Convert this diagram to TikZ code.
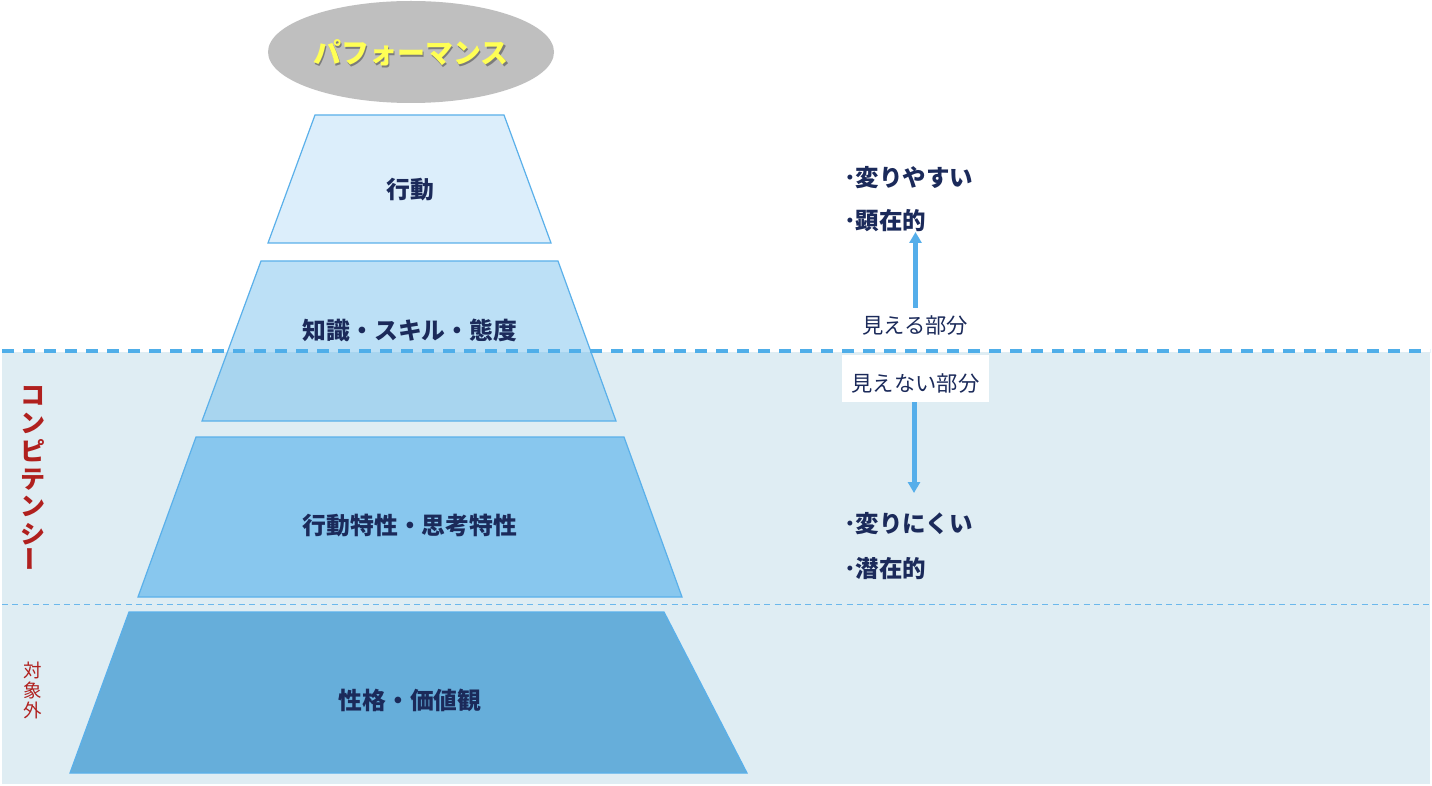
\documentclass[tikz,border=0pt]{standalone}
\usepackage{fontspec}
\setmainfont{Noto Sans CJK JP}
\usetikzlibrary{arrows.meta}
\definecolor{navy}{HTML}{1B2A5A}
\definecolor{compred}{HTML}{B0201E}
\definecolor{bgblue}{HTML}{DFEDF3}
\definecolor{edgeblue}{HTML}{5AB0EA}
\definecolor{arrowblue}{HTML}{55AEEA}
\definecolor{dashblue}{HTML}{4FAEE9}
\definecolor{thindash}{HTML}{6BB8EC}
\definecolor{tone}{HTML}{DCEEFB}
\definecolor{ttwo}{HTML}{4FAEE9}
\definecolor{tthree}{HTML}{88C7EE}
\definecolor{tfour}{HTML}{66AEDA}
\definecolor{ellgray}{HTML}{BFBFBF}
\definecolor{perfyellow}{HTML}{FFFF55}
\tikzset{
  trap/.style={draw=edgeblue, line width=1.2pt, line join=miter},
  traplabel/.style={font=\fontsize{23.8}{26}\selectfont\bfseries, text=navy, inner sep=0pt},
  bullet/.style={font=\fontsize{23.5}{26}\selectfont\bfseries, text=navy, anchor=west, inner sep=0pt},
  sidelabel/.style={font=\fontsize{21.3}{24}\selectfont, text=navy},
  bigarrow/.style={draw=arrowblue, line width=5pt, -{Triangle[width=12pt,length=11pt]}},
}
\begin{document}
\begin{tikzpicture}[x=1pt,y=-1pt]
\useasboundingbox (0,0) rectangle (1432,786);
\fill[white] (0,0) rectangle (1432,786);
% lower (invisible) region
\fill[bgblue] (2,352) rectangle (1430,784);

% performance ellipse
\fill[ellgray] (411,52) ellipse [x radius=143, y radius=51];
\node[font=\fontsize{28}{30}\selectfont\bfseries, text=black, opacity=0.35, inner sep=0pt] (perfshadow) at (412.5,54.5) {パフォーマンス};
\node[font=\fontsize{28}{30}\selectfont\bfseries, text=perfyellow, inner sep=0pt] (perf) at (411,53) {パフォーマンス};

% pyramid
\filldraw[trap, fill=tone] (315,115) -- (504,115) -- (551,243) -- (268,243) -- cycle;
\filldraw[trap, fill=ttwo, fill opacity=0.38] (261,261) -- (558,261) -- (616,421) -- (202,421) -- cycle;
\filldraw[trap, fill=tthree] (196,437) -- (624,437) -- (682,597) -- (138,597) -- cycle;
\filldraw[trap, fill=tfour] (129,612) -- (664,612) -- (747,773) -- (70,773) -- cycle;

\node[traplabel] (act) at (410,190) {行動};
\node[traplabel] (know) at (410,330) {知識・スキル・態度};
\node[traplabel] (trait) at (410,526) {行動特性・思考特性};
\node[traplabel] (pers) at (410,700) {性格・価値観};

% boundary lines
\draw[dashblue, line width=3.5pt, dash pattern=on 12pt off 9pt] (2,351) -- (1430,351);
\draw[thindash, line width=1.6pt, dash pattern=on 6pt off 4.3pt] (2,604.5) -- (1430,604.5);

% side labels
\node[font=\fontsize{25}{27.8}\selectfont\bfseries, text=compred, align=center, inner sep=0pt] (comp) at (33,479) {コ\\ン\\ピ\\テ\\ン\\シ\\\rotatebox{90}{ー}};
\node[font=\fontsize{18.5}{20}\selectfont, text=compred, align=center, inner sep=0pt] (outside) at (33,690) {対\\象\\外};

% right side texts
\node[bullet] (easy) at (844,178) {･変りやすい};
\node[bullet] (overt) at (844,221) {･顕在的};
\node[bullet] (hard) at (844,524) {･変りにくい};
\node[bullet] (latent) at (844,569) {･潜在的};

\node[sidelabel, inner sep=0pt] (visible) at (915,326) {見える部分};
\node[sidelabel, fill=white, minimum width=147pt, inner xsep=0pt, inner ysep=6.5pt, text height=30pt, text depth=4pt] (invisible) at (915.5,378.5) {見えない部分};

\coordinate (uptip) at (915.5,232);
\coordinate (downtip) at (914,493);
\draw[bigarrow] (visible.north) ++(0.5,-8) coordinate (upstart) -- (uptip);
\draw[bigarrow] (invisible.south -| downtip) -- (downtip);
\end{tikzpicture}
\end{document}
